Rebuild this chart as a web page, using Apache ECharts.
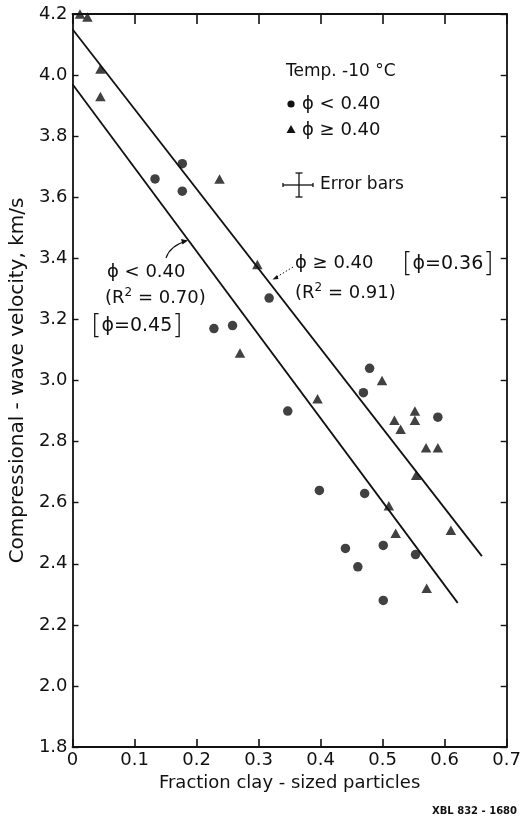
<!DOCTYPE html>
<html>
<head>
<meta charset="utf-8">
<script src="https://cdn.jsdelivr.net/npm/echarts@6/dist/echarts.min.js"></script>
<style>
  html, body { margin: 0; padding: 0; background: #fff; }
  #chart { width: 524px; height: 820px; }
</style>
</head>
<body>
<div id="chart"></div>
<script>
// Compressional-wave velocity vs. clay fraction at -10 °C
const xTickValues = [0, 0.1, 0.2, 0.3, 0.4, 0.5, 0.6, 0.7];
const yTickValues = [1.8, 2.0, 2.2, 2.4, 2.6, 2.8, 3.0, 3.2, 3.4, 3.6, 3.8, 4.0, 4.2];

// porosity < 0.40 (circles)
const lowPorosity = [
  [0.133, 3.66], [0.177, 3.71], [0.177, 3.62], [0.228, 3.17], [0.258, 3.18],
  [0.317, 3.27], [0.347, 2.90], [0.398, 2.64], [0.440, 2.45], [0.460, 2.39],
  [0.469, 2.96], [0.471, 2.63], [0.479, 3.04], [0.501, 2.46], [0.501, 2.28],
  [0.553, 2.43], [0.589, 2.88]
];

// porosity >= 0.40 (triangles)
const highPorosity = [
  [0.012, 4.20], [0.024, 4.19], [0.045, 4.02], [0.045, 3.93], [0.237, 3.66],
  [0.270, 3.09], [0.298, 3.38], [0.395, 2.94], [0.499, 3.00], [0.519, 2.87],
  [0.529, 2.84], [0.552, 2.90], [0.552, 2.87], [0.554, 2.69], [0.510, 2.59],
  [0.521, 2.50], [0.570, 2.78], [0.589, 2.78], [0.610, 2.51], [0.571, 2.32]
];

// least-squares fit lines (end points)
const fitLow = [[0, 3.97], [0.621, 2.272]];
const fitHigh = [[0, 4.15], [0.660, 2.425]];

const FONT = 'DejaVu Sans';
const INK = '#111';

const chart = echarts.init(document.getElementById('chart'), null, { renderer: 'canvas' });

const xBase = {
  type: 'value', min: xTickValues[0], max: xTickValues[xTickValues.length - 1], interval: 0.1,
  splitLine: { show: false },
  axisLine: { onZero: false, lineStyle: { color: INK, width: 1.8 } },
  axisTick: { inside: true, length: 8, lineStyle: { color: INK, width: 1.6 } }
};
const yBase = {
  type: 'value', min: yTickValues[0], max: yTickValues[yTickValues.length - 1], interval: 0.2,
  splitLine: { show: false },
  axisLine: { onZero: false, lineStyle: { color: INK, width: 1.8 } },
  axisTick: { inside: true, length: 6, lineStyle: { color: INK, width: 1.4 } }
};

const option = {
  backgroundColor: '#fff',
  animation: false,
  grid: { left: 70.5, right: 13, top: 14, bottom: 73 },
  xAxis: [
    Object.assign({}, xBase, {
      position: 'bottom',
      name: 'Fraction clay - sized particles',
      nameLocation: 'middle', nameGap: 24,
      nameTextStyle: { fontFamily: FONT, fontSize: 18, color: INK, verticalAlign: 'top' },
      axisLabel: {
        margin: 4, fontFamily: FONT, fontSize: 18, color: INK,
        formatter: v => (v === 0 ? '0' : v.toFixed(1))
      }
    }),
    Object.assign({}, xBase, { position: 'top', axisLabel: { show: false },
      axisTick: { inside: true, length: 10, lineStyle: { color: INK, width: 1.6 } } })
  ],
  yAxis: [
    Object.assign({}, yBase, {
      position: 'left',
      name: 'Compressional - wave velocity, km/s',
      nameLocation: 'middle', nameGap: 44, nameRotate: 90,
      nameTextStyle: { fontFamily: FONT, fontSize: 20, color: INK },
      axisLabel: {
        margin: 5, fontFamily: FONT, fontSize: 18, color: INK,
        formatter: v => v.toFixed(1)
      }
    }),
    Object.assign({}, yBase, { position: 'right', axisLabel: { show: false } })
  ],
  series: [
    {
      name: 'fit φ < 0.40', type: 'line', data: fitLow, symbol: 'none', silent: true,
      lineStyle: { color: INK, width: 1.8 }, z: 2
    },
    {
      name: 'fit φ ≥ 0.40', type: 'line', data: fitHigh, symbol: 'none', silent: true,
      lineStyle: { color: INK, width: 1.8 }, z: 2
    },
    {
      name: 'φ < 0.40', type: 'scatter', data: lowPorosity, symbol: 'circle', symbolSize: 9.5,
      itemStyle: { color: INK }, clip: false, z: 3
    },
    {
      name: 'φ ≥ 0.40', type: 'scatter', data: highPorosity, symbol: 'triangle', symbolSize: [10.5, 9.5],
      itemStyle: { color: INK }, clip: false, z: 3
    }
  ],
  graphic: [
    // key
    { type: 'text', style: { x: 286, y: 72, text: 'Temp. -10 °C', fontFamily: FONT, fontSize: 17, fill: INK, textVerticalAlign: 'middle' } },
    { type: 'circle', shape: { cx: 291, cy: 104, r: 3.6 }, style: { fill: INK } },
    { type: 'text', style: { x: 302, y: 104, text: 'ϕ < 0.40', fontFamily: FONT, fontSize: 18, fill: INK, textVerticalAlign: 'middle' } },
    { type: 'polygon', shape: { points: [[291, 125], [286.5, 133], [295.5, 133]] }, style: { fill: INK } },
    { type: 'text', style: { x: 302, y: 130, text: 'ϕ ≥ 0.40', fontFamily: FONT, fontSize: 18, fill: INK, textVerticalAlign: 'middle' } },
    // error bar glyph
    { type: 'line', shape: { x1: 283, y1: 185, x2: 313, y2: 185 }, style: { stroke: INK, lineWidth: 1.3 } },
    { type: 'line', shape: { x1: 283, y1: 183, x2: 283, y2: 187 }, style: { stroke: INK, lineWidth: 1.3 } },
    { type: 'line', shape: { x1: 313, y1: 183, x2: 313, y2: 187 }, style: { stroke: INK, lineWidth: 1.3 } },
    { type: 'line', shape: { x1: 299, y1: 173, x2: 299, y2: 197 }, style: { stroke: INK, lineWidth: 1.3 } },
    { type: 'line', shape: { x1: 295.5, y1: 173, x2: 302.5, y2: 173 }, style: { stroke: INK, lineWidth: 1.3 } },
    { type: 'line', shape: { x1: 295.5, y1: 197, x2: 302.5, y2: 197 }, style: { stroke: INK, lineWidth: 1.3 } },
    { type: 'text', style: { x: 320, y: 185, text: 'Error bars', fontFamily: FONT, fontSize: 17, fill: INK, textVerticalAlign: 'middle' } },

    // left fit annotation
    { type: 'text', style: { x: 107, y: 272, text: 'ϕ < 0.40', fontFamily: FONT, fontSize: 18, fill: INK, textVerticalAlign: 'middle' } },
    { type: 'text', style: { x: 105, y: 298, text: '(R{s|2} = 0.70)', fontFamily: FONT, fontSize: 18, fill: INK, textVerticalAlign: 'middle',
      rich: { s: { fontFamily: FONT, fontSize: 12, verticalAlign: 'top', padding: [0, 0, 10, 0] } } } },
    { type: 'text', style: { x: 91, y: 326, text: '{b|[}ϕ=0.45{b|]}', fontFamily: FONT, fontSize: 19, fill: INK, textVerticalAlign: 'middle',
      rich: { b: { fontFamily: FONT, fontSize: 27, fontWeight: 100 } } } },
    { type: 'bezierCurve', shape: { x1: 166, y1: 258, cpx1: 170, cpy1: 246, x2: 186, y2: 241 }, style: { stroke: INK, lineWidth: 1.2, fill: null } },
    { type: 'polygon', shape: { points: [[188, 240.5], [181, 239], [182.5, 244.5]] }, style: { fill: INK } },

    // right fit annotation
    { type: 'text', style: { x: 295, y: 263, text: 'ϕ ≥ 0.40', fontFamily: FONT, fontSize: 18, fill: INK, textVerticalAlign: 'middle' } },
    { type: 'text', style: { x: 295, y: 293, text: '(R{s|2} = 0.91)', fontFamily: FONT, fontSize: 18, fill: INK, textVerticalAlign: 'middle',
      rich: { s: { fontFamily: FONT, fontSize: 12, verticalAlign: 'top', padding: [0, 0, 10, 0] } } } },
    { type: 'text', style: { x: 402, y: 264, text: '{b|[}ϕ=0.36{b|]}', fontFamily: FONT, fontSize: 19, fill: INK, textVerticalAlign: 'middle',
      rich: { b: { fontFamily: FONT, fontSize: 27, fontWeight: 100 } } } },
    { type: 'line', shape: { x1: 293, y1: 267, x2: 275, y2: 278 }, style: { stroke: INK, lineWidth: 1, lineDash: [1.5, 2] } },
    { type: 'polygon', shape: { points: [[272.5, 279.5], [277, 275], [278.5, 279]] }, style: { fill: INK } },

    // drawing number
    { type: 'text', style: { x: 517, y: 811, text: 'XBL 832 - 1680', fontFamily: 'DejaVu Sans', fontWeight: 'bold', fontSize: 10, fill: INK, textAlign: 'right', textVerticalAlign: 'middle' } }
  ]
};

chart.setOption(option);
</script>
</body>
</html>
